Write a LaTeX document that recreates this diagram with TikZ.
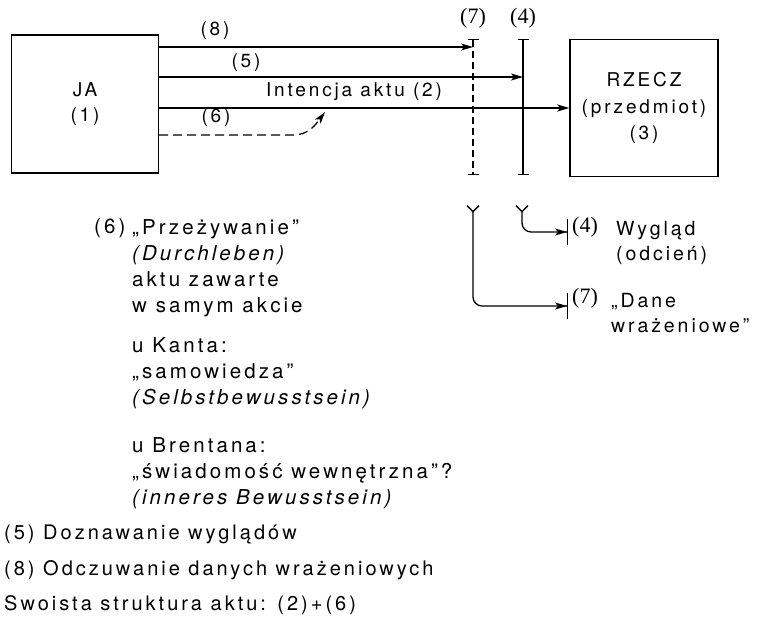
\documentclass[tikz,border=0pt]{standalone}
\usepackage{fontspec}
\setmainfont{TeX Gyre Heros}[LetterSpace=15]
\newfontfamily\numfont{Liberation Serif}
\usetikzlibrary{arrows.meta}

\begin{document}
\begin{tikzpicture}[x=1pt,y=-1pt]
\tikzstyle{box}=[draw, line width=1.3pt, minimum width=147pt, minimum height=138pt, align=center, font=\fontsize{19}{25}\selectfont]
\tikzstyle{txt}=[inner sep=0pt, align=left, font=\fontsize{19}{25}\selectfont]
\tikzstyle{opis}=[inner sep=0pt, align=left, anchor=north west, font=\fontsize{20.5}{26}\selectfont]
\tikzstyle{dol}=[inner sep=0pt, anchor=west, font=\fontsize{20}{26}\selectfont]
\tikzstyle{num}=[inner sep=0pt, font=\numfont\fontsize{22}{24}\selectfont]
\tikzstyle{tip}=[-{Stealth[length=12pt,width=7pt,inset=3pt]}]
\tikzstyle{fork}=[{Straight Barb[reversed,length=6pt,width=12pt]}-{Stealth[length=12pt,width=7pt,inset=3pt]Bar[width=26pt,line width=1pt]}, line width=1.3pt, rounded corners=9pt]
\tikzstyle{pole}=[{Bar[width=11pt]}-{Bar[width=11pt]}, line width=1.3pt]
\useasboundingbox (0,0) rectangle (758,628);
%JA, RZECZ
\node[box] (ja) at (85,104) {JA\\(1)};
\node[box, minimum width=148pt, minimum height=137pt, font=\fontsize{19}{26.5}\selectfont] (rzecz) at (644,108) {RZECZ\\(przedmiot)\\(3)};
%(7) i (4)
\coordinate (p7t) at (473,39);
\coordinate (p7b) at (473,175);
\coordinate (p4t) at (523,39);
\coordinate (p4b) at (523,175);
\draw[pole, dash pattern=on 7pt off 4pt] (p7t) -- (p7b);
\draw[pole] (p4t) -- (p4b);
\node[num] (n7) at (473,18) {(7)};
\node[num] (n4) at (523,18) {(4)};
%8, 5, 2
\coordinate (e8) at (473,47);
\coordinate (e5) at (523,77);
\draw[tip, line width=1.2pt] (ja.east |- e8) -- (e8);
\draw[tip, line width=1.6pt] (ja.east |- e5) -- (e5);
\draw[tip, line width=2.6pt] (ja.east |- rzecz.west) -- (rzecz.west);
\node[txt] (l8) at (215,31) {(8)};
\node[txt] (l5) at (246,63) {(5)};
\node[txt] (l2) at (354,92) {Intencja aktu (2)};
\node[txt] (l6) at (216,118) {(6)};
%6
\coordinate (e6) at (325,112);
\draw[tip, line width=1.3pt, dash pattern=on 9pt off 5pt] ([yshift=-31pt]ja.east) -- ++(134,0) .. controls +(16,0) and +(-9,12) .. (e6);
%dolne
\coordinate (f7) at (473,205);
\coordinate (a7) at (568,306);
\coordinate (f4) at (522,205);
\coordinate (a4) at (568,232);
\draw[fork] (f4) |- (a4);
\draw[fork] (f7) |- (a7);
\node[num, anchor=west] (m4) at (572,227) {(4)};
\node[txt, anchor=north west, font=\fontsize{19.5}{25}\selectfont] (w4) at (616,221) {Wygląd\\(odcień)};
\node[num, anchor=west] (m7) at (572,298) {(7)};
\node[txt, anchor=north west, font=\fontsize{19.5}{25}\selectfont] (w7) at (611,293) {„Dane\\wrażeniowe”};
%opis
\node[dol, font=\fontsize{20.5}{26}\selectfont] (n6) at (94,228) {(6)};
\node[opis] (g6) at (132,219) {„Przeżywanie”\\\textit{(Durchleben)}\\aktu zawarte\\w samym akcie};
\node[opis] (g7) at (132,337) {u Kanta:\\„samowiedza”\\\textit{(Selbstbewusstsein)}};
\node[opis] (g8) at (132,437) {u Brentana:\\„świadomość wewnętrzna”?\\\textit{(inneres Bewusstsein)}};
\node[dol] (s5) at (4,535) {(5) Doznawanie wyglądów};
\node[dol] (s8) at (4,570) {(8) Odczuwanie danych wrażeniowych};
\node[dol] (sw) at (4,605) {Swoista struktura aktu: (2)+(6)};
\end{tikzpicture}
\end{document}
